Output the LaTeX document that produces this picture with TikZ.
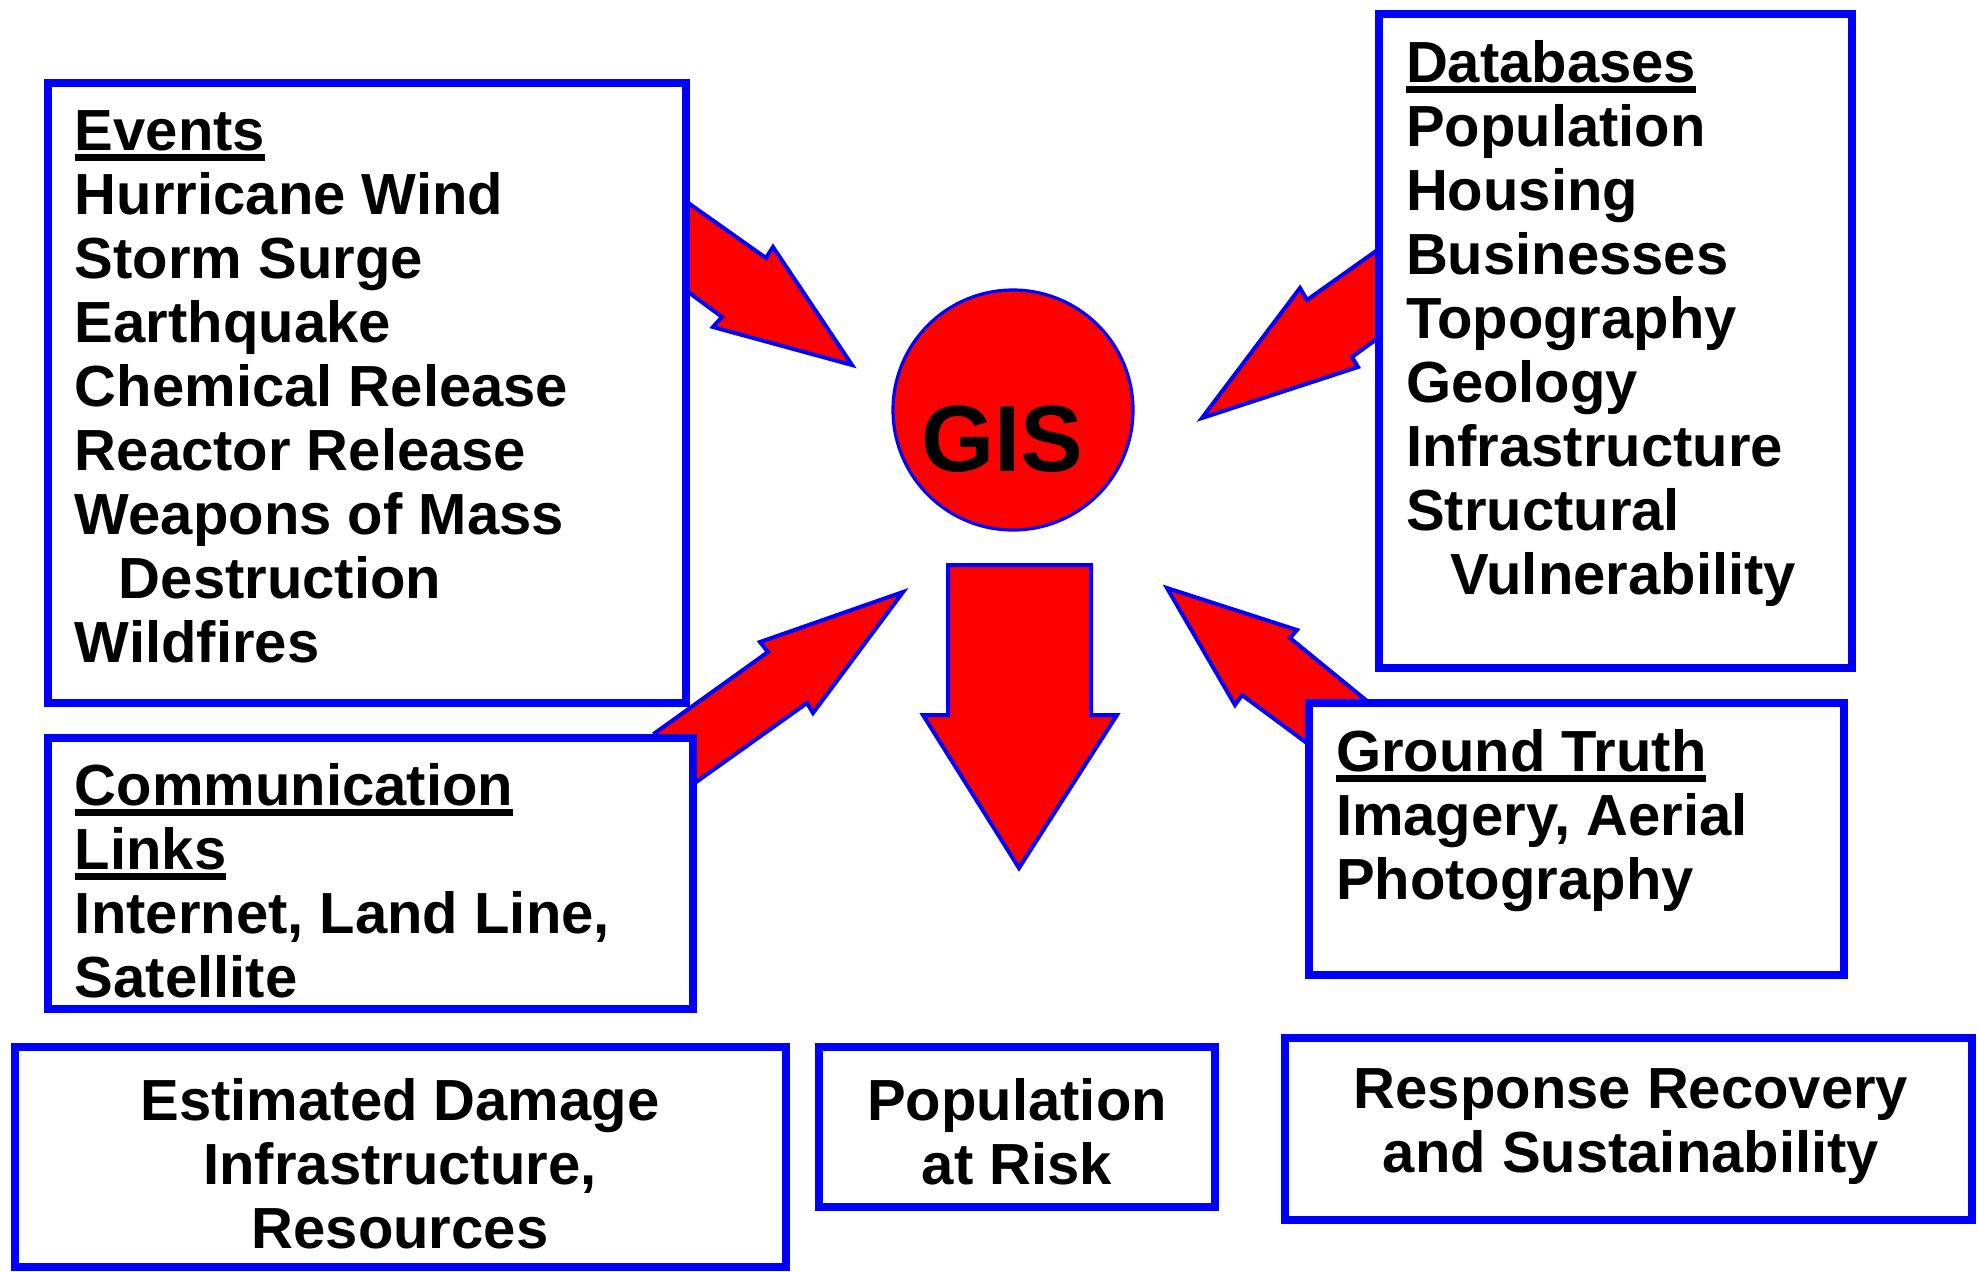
\documentclass[tikz,border=0pt]{standalone}
\usepackage{fontspec}
\setmainfont{Liberation Sans}
\definecolor{gblue}{RGB}{0,0,255}
\definecolor{gred}{RGB}{255,0,0}
% body text: bold sans, fixed line pitch
\newcommand\bodyfont{\fontsize{29pt}{32pt}\bfseries\selectfont}
% heading word with a heavy underline
\newcommand\hd[1]{\setbox0=\hbox{#1}\rlap{\rule[-5.5pt]{\wd0}{3.75pt}}\box0}
% stacked lines; the block's baseline is that of its first line
\newcommand\leftlines[1]{\vtop{\baselineskip=32pt\lineskip=0pt\lineskiplimit=-100pt\halign{##\hfil\cr#1\crcr}}}
\newcommand\midlines[1]{\vtop{\baselineskip=32pt\lineskip=0pt\lineskiplimit=-100pt\halign{\hfil##\hfil\cr#1\crcr}}}
\begin{document}
\begin{tikzpicture}[x=0.5pt,y=-0.5pt,
  panel/.style={rectangle, draw=gblue, fill=white, line width=4.25pt, inner sep=0pt},
  blockarrow/.style={fill=gred, draw=gblue, line width=2pt, line join=miter},
  txt/.style={inner sep=0pt, outer sep=0pt, font=\bodyfont}]
\useasboundingbox (0,0) rectangle (1978,1271);

% block arrows (tails run under the panels)
\filldraw[blockarrow] (660,183) -- (766,258) -- (773,247) -- (852,365) -- (713,327) -- (722,317) -- (660,271) -- cycle;
\filldraw[blockarrow] (1400,234) -- (1307,300) -- (1300,288) -- (1202,418) -- (1358,367) -- (1352,357) -- (1400,322) -- cycle;
\filldraw[blockarrow] (655,733) -- (768,652) -- (760,642) -- (903,592) -- (813,713) -- (807,703) -- (692,785) -- cycle;
\filldraw[blockarrow] (1167,588) -- (1297,630) -- (1290,638) -- (1400,728) -- (1400,812) -- (1242,695) -- (1235,705) -- cycle;
\filldraw[blockarrow] (948,565) -- (1091,565) -- (1091,715) -- (1117,715) -- (1019,868) -- (923,715) -- (948,715) -- cycle;

% panels
\node[panel, minimum width=319pt, minimum height=310pt] (events) at (367,393) {};
\node[panel, minimum width=236.5pt, minimum height=327pt] (dbs) at (1615.5,341) {};
\node[panel, minimum width=322.5pt, minimum height=135.5pt] (comm) at (370.5,873.5) {};
\node[panel, minimum width=267.5pt, minimum height=136pt] (ground) at (1576.5,839) {};
\node[panel, minimum width=385.5pt, minimum height=110pt] (damage) at (400.5,1157) {};
\node[panel, minimum width=198pt, minimum height=80pt] (risk) at (1017,1127) {};
\node[panel, minimum width=343.5pt, minimum height=91pt] (response) at (1628.5,1129) {};

% hub
\node[circle, fill=gred, draw=gblue, line width=1.6pt, minimum size=120pt, inner sep=0pt] (gis) at (1013,410) {};
\node[inner sep=0pt, anchor=base, font=\fontsize{47pt}{50pt}\bfseries\selectfont] (gislabel) at (1002,471) {GIS};

% texts
\node[txt, anchor=base west] (eventstext) at (75,150) {\leftlines{\hd{Events}\cr
Hurricane Wind\cr Storm Surge\cr Earthquake\cr Chemical Release\cr Reactor Release\cr
Weapons of Mass\cr \hskip22pt Destruction\cr Wildfires}};
\node[txt, anchor=base west] (dbstext) at (1406,82) {\leftlines{\hd{Databases}\cr
Population\cr Housing\cr Businesses\cr Topography\cr Geology\cr Infrastructure\cr
Structural\cr \hskip22pt Vulnerability}};
\node[txt, anchor=base west] (commtext) at (75,805) {\leftlines{\hd{Communication}\cr
\hd{Links}\cr Internet, Land Line,\cr Satellite}};
\node[txt, anchor=base west] (groundtext) at (1336,771) {\leftlines{\hd{Ground Truth}\cr
Imagery, Aerial\cr Photography}};
\node[txt, anchor=base] (damagetext) at (400,1120) {\midlines{Estimated Damage\cr
Infrastructure,\cr Resources}};
\node[txt, anchor=base] (risktext) at (1017,1120) {\midlines{Population\cr at Risk}};
\node[txt, anchor=base] (responsetext) at (1631,1108) {\midlines{Response Recovery\cr
and Sustainability}};
\end{tikzpicture}
\end{document}
